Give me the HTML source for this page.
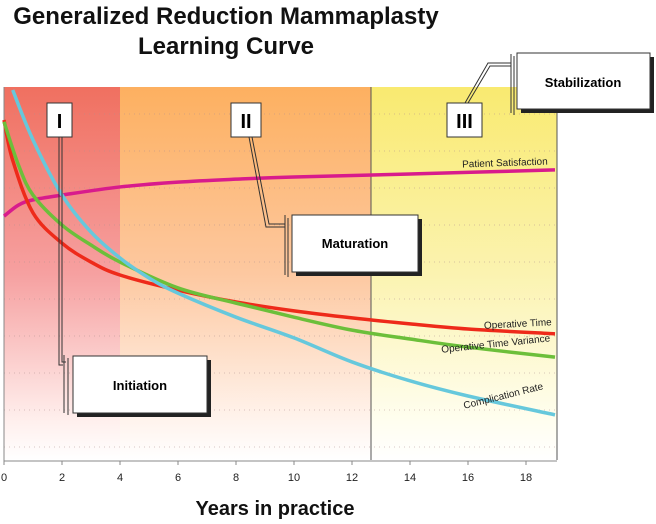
<!DOCTYPE html>
<html><head><meta charset="utf-8"><style>
body{margin:0;background:#fff;}
svg text{font-family:"Liberation Sans",sans-serif;}
</style></head><body>
<svg width="656" height="519" viewBox="0 0 656 519">
<defs>
<linearGradient id="gI" x1="0" y1="0" x2="0" y2="1"><stop offset="0" stop-color="#f07060"/><stop offset="0.5" stop-color="#f6a0a0"/><stop offset="0.9" stop-color="#fff0ee"/><stop offset="1" stop-color="#ffffff"/></linearGradient>
<linearGradient id="gII" x1="0" y1="0" x2="0" y2="1"><stop offset="0" stop-color="#fdb060"/><stop offset="0.5" stop-color="#fdc8a0"/><stop offset="0.9" stop-color="#fff4ee"/><stop offset="1" stop-color="#ffffff"/></linearGradient>
<linearGradient id="gIII" x1="0" y1="0" x2="0" y2="1"><stop offset="0" stop-color="#f9ea70"/><stop offset="0.5" stop-color="#fbf3b0"/><stop offset="0.9" stop-color="#fffef0"/><stop offset="1" stop-color="#ffffff"/></linearGradient>
</defs>
<text x="226" y="24" font-size="24" font-weight="bold" text-anchor="middle" fill="#111">Generalized Reduction Mammaplasty</text>
<text x="226" y="54" font-size="24" font-weight="bold" text-anchor="middle" fill="#111">Learning Curve</text>
<rect x="4" y="87" width="116" height="373" fill="url(#gI)"/>
<rect x="120" y="87" width="251" height="373" fill="url(#gII)"/>
<rect x="371" y="87" width="186" height="373" fill="url(#gIII)"/>
<line x1="371" y1="87" x2="371" y2="460" stroke="#555"/>
<line x1="557" y1="87" x2="557" y2="460" stroke="#555"/>
<g id="grid"></g>
<line x1="4" y1="87" x2="4" y2="461" stroke="#888"/>
<line x1="4" y1="461" x2="557" y2="461" stroke="#888"/>
<g id="ticks"></g>
<g id="series"></g>
<text x="275" y="515" font-size="20" font-weight="bold" text-anchor="middle" fill="#111">Years in practice</text>
<text x="505" y="166" font-size="10" text-anchor="middle" fill="#222" transform="rotate(-2 505 166)">Patient Satisfaction</text>
<text x="518" y="327" font-size="10" text-anchor="middle" fill="#222" transform="rotate(-3 518 327)">Operative Time</text>
<text x="496" y="347" font-size="10" text-anchor="middle" fill="#222" transform="rotate(-6 496 347)">Operative Time Variance</text>
<text x="504" y="399" font-size="10" text-anchor="middle" fill="#222" transform="rotate(-14 504 399)">Complication Rate</text>
<g fill="none" stroke="#333" stroke-width="1">
<path d="M59 137 L59 365 L63 365"/><path d="M62 137 L62 362 L66 362"/>
<line x1="64" y1="355" x2="64" y2="413"/><line x1="68" y1="358" x2="68" y2="415"/>
<path d="M249 137 L266 227 L285 227"/><path d="M252 137 L269 224 L285 224"/>
<line x1="285" y1="215" x2="285" y2="275"/><line x1="288" y1="218" x2="288" y2="277"/>
<path d="M465 103 L488 63 L511 63"/><path d="M468 103 L490 66 L511 66"/>
<line x1="511" y1="54" x2="511" y2="113"/><line x1="514" y1="56" x2="514" y2="115"/>
</g>
<g><rect x="47" y="103" width="25" height="34" fill="#fff" stroke="#333"/><text x="59.5" y="128" font-size="20" font-weight="bold" text-anchor="middle">I</text></g>
<g><rect x="231" y="103" width="30" height="34" fill="#fff" stroke="#333"/><text x="246" y="128" font-size="20" font-weight="bold" text-anchor="middle">II</text></g>
<g><rect x="447" y="103" width="35" height="34" fill="#fff" stroke="#333"/><text x="464.5" y="128" font-size="20" font-weight="bold" text-anchor="middle">III</text></g>
<g><rect x="521" y="57" width="133" height="56" fill="#222"/><rect x="517" y="53" width="133" height="56" fill="#fff" stroke="#333"/><text x="583" y="87" font-size="13" font-weight="bold" text-anchor="middle">Stabilization</text></g>
<g><rect x="296" y="219" width="126" height="57" fill="#222"/><rect x="292" y="215" width="126" height="57" fill="#fff" stroke="#333"/><text x="355" y="248" font-size="13" font-weight="bold" text-anchor="middle">Maturation</text></g>
<g><rect x="77" y="360" width="134" height="57" fill="#222"/><rect x="73" y="356" width="134" height="57" fill="#fff" stroke="#333"/><text x="140" y="390" font-size="13" font-weight="bold" text-anchor="middle">Initiation</text></g>
</svg>
<script>
const xTicks=[0,2,4,6,8,10,12,14,16,18];
const redYears=[0,0.3,1,2,3,4,6,8,10,12,14,16,19];
const redVals=[91.9,81,66.8,58.6,53.5,50,45.9,42.7,40.3,38.4,36.8,35.4,34.1];
const greenYears=[0,0.5,1,2,3,4,6,8,10,12,14,16,19];
const greenVals=[91.4,79.7,71.6,63.5,58.1,53.5,46.5,42.4,38.6,35.1,32.7,30.5,27.8];
const cyanYears=[0.3,1,2,3,4,5,6,8,10,12,14,16,19];
const cyanVals=[100,86.5,71.6,61.6,54.6,49.2,45.1,38.6,33.0,26.5,21.4,17.3,12.2];
const pinkYears=[0,0.5,1,2,4,6,8,10,14,19];
const pinkVals=[65.9,68.9,70.3,71.6,73.8,75.1,75.9,76.5,77.3,78.4];
const gridVals=[0,10,20,30,40,50,60,70,80,90];
const NS="http://www.w3.org/2000/svg";
function xs(t){return 4+t*29;}
function ys(v){return 460-v*3.7;}
function path(xsA,vs){
  const p=xsA.map((t,i)=>[xs(t),ys(vs[i])]);
  let d="M"+p[0][0]+" "+p[0][1];
  for(let i=0;i<p.length-1;i++){
    const p0=p[Math.max(0,i-1)],p1=p[i],p2=p[i+1],p3=p[Math.min(p.length-1,i+2)];
    const c1=[p1[0]+(p2[0]-p0[0])/6,p1[1]+(p2[1]-p0[1])/6];
    const c2=[p2[0]-(p3[0]-p1[0])/6,p2[1]-(p3[1]-p1[1])/6];
    d+=" C"+c1[0]+" "+c1[1]+" "+c2[0]+" "+c2[1]+" "+p2[0]+" "+p2[1];
  }
  return d;
}
const grid=document.getElementById('grid');
gridVals.forEach(v=>{
  const l=document.createElementNS(NS,'line');
  l.setAttribute('x1',4);l.setAttribute('x2',557);
  l.setAttribute('y1',ys(v)-13);l.setAttribute('y2',ys(v)-13);
  l.setAttribute('stroke','#b09090');l.setAttribute('stroke-dasharray','1 4');l.setAttribute('stroke-opacity','0.5');
  
  
  grid.appendChild(l);
});
const ticks=document.getElementById('ticks');
xTicks.forEach(t=>{
  const l=document.createElementNS(NS,'line');
  l.setAttribute('x1',xs(t));l.setAttribute('x2',xs(t));l.setAttribute('y1',461);l.setAttribute('y2',465);l.setAttribute('stroke','#888');
  
  
  ticks.appendChild(l);
  const tx=document.createElementNS(NS,'text');
  tx.setAttribute('x',xs(t));tx.setAttribute('y',481);tx.setAttribute('font-size','11');tx.setAttribute('text-anchor','middle');tx.setAttribute('fill','#222');
  tx.textContent=t;
  
  
  ticks.appendChild(tx);
});
const series=document.getElementById('series');
[[pinkYears,pinkVals,'#d81b8c','patient-satisfaction-line'],
 [redYears,redVals,'#ee2a1a','operative-time-line'],
 [greenYears,greenVals,'#6cbf3a','operative-time-variance-line'],
 [cyanYears,cyanVals,'#66c8dc','complication-rate-line']].forEach(s=>{
  const p=document.createElementNS(NS,'path');
  p.setAttribute('d',path(s[0],s[1]));
  p.setAttribute('fill','none');p.setAttribute('stroke',s[2]);p.setAttribute('stroke-width','3.5');
  
  
  series.appendChild(p);
});
</script>
</body></html>
